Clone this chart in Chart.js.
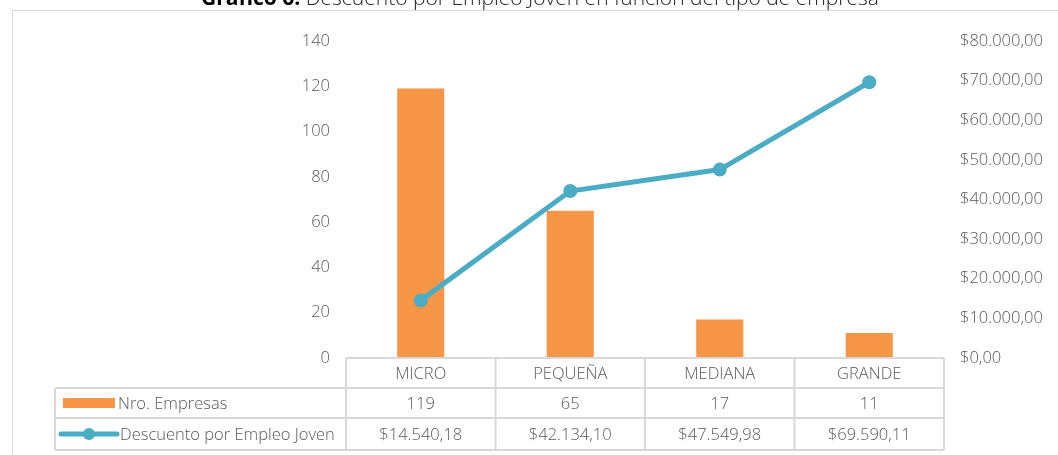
<!DOCTYPE html>
<html>
<head>
<meta charset="utf-8">
<script src="https://cdn.jsdelivr.net/npm/chart.js@4"></script>
<style>
  html, body { margin: 0; padding: 0; background: #fff; }
  #wrap { width: 1058px; height: 455px; position: relative; }
</style>
</head>
<body>
<div id="wrap"><canvas id="chart" width="1058" height="455"></canvas></div>
<script>
// --- DATA ---
const categories = ['MICRO', 'PEQUEÑA', 'MEDIANA', 'GRANDE'];
const empresas = [119, 65, 17, 11];
const descuento = [14540.18, 42134.10, 47549.98, 69590.11];
const leftTicks = [0, 20, 40, 60, 80, 100, 120, 140];
const rightTicks = [0, 10000, 20000, 30000, 40000, 50000, 60000, 70000, 80000];

const seriesNames = ['Nro. Empresas', 'Descuento por Empleo Joven'];
const titleBold = 'Gráfico 6.';
const titleRest = ' Descuento por Empleo Joven en función del tipo de empresa';

const FONT = '"Open Sans", Lato, sans-serif';
const SIZE = 16.5;
const TEXT = '#595959';
const GRID = '#d9d9d9';
const ORANGE = '#F79646';
const BLUE = '#4BACC6';

const money = v => '$' + v.toLocaleString('de-DE', { minimumFractionDigits: 2, maximumFractionDigits: 2 });

// frame, title and data table drawn around the plot
const tablePlugin = {
    id: 'dataTable',
    afterDraw(chart) {
        const ctx = chart.ctx;
        const x = chart.scales.x;
        const area = chart.chartArea;
        const half = (area.right - area.left) / categories.length / 2;
        const rowTop = area.bottom;
        const rows = [rowTop, rowTop + 30, rowTop + 60, rowTop + 92];
        const tableLeft = 55;

        ctx.save();
        // outer frame
        ctx.strokeStyle = GRID;
        ctx.lineWidth = 1;
        ctx.beginPath();
        ctx.moveTo(12.5, 460);
        ctx.lineTo(12.5, 10.5);
        ctx.lineTo(1070, 10.5);
        ctx.stroke();

        // title (cut at top in reference)
        ctx.textBaseline = 'alphabetic';
        ctx.font = 'bold 21px ' + FONT;
        const wb = ctx.measureText(titleBold).width;
        ctx.font = '300 21px ' + FONT;
        const wr = ctx.measureText(titleRest).width;
        let tx = 540 - (wb + wr) / 2;
        ctx.fillStyle = '#000';
        ctx.font = 'bold 21px ' + FONT;
        ctx.fillText(titleBold, tx, 5);
        ctx.font = '300 21px ' + FONT;
        ctx.fillStyle = '#222';
        ctx.fillText(titleRest, tx + wb, 5);

        // table lines
        ctx.strokeStyle = GRID;
        ctx.lineWidth = 2;
        ctx.beginPath();
        ctx.moveTo(area.left, rows[0]);
        ctx.lineTo(area.right, rows[0]);
        for (let r = 1; r < rows.length; r++) {
            ctx.moveTo(tableLeft, rows[r]);
            ctx.lineTo(area.right, rows[r]);
        }
        ctx.moveTo(tableLeft, rows[1]);
        ctx.lineTo(tableLeft, rows[3]);
        for (let i = 0; i <= categories.length; i++) {
            const cx = i < categories.length ? x.getPixelForValue(i) - half : x.getPixelForValue(i - 1) + half;
            ctx.moveTo(cx, rows[0]);
            ctx.lineTo(cx, rows[3]);
        }
        ctx.stroke();

        // cell text
        ctx.fillStyle = TEXT;
        ctx.font = '300 ' + SIZE + 'px ' + FONT;
        ctx.textAlign = 'center';
        ctx.textBaseline = 'middle';
        categories.forEach((c, i) => {
            const cx = x.getPixelForValue(i);
            ctx.fillText(c, cx, (rows[0] + rows[1]) / 2 + 1);
            ctx.fillText(String(empresas[i]), cx, (rows[1] + rows[2]) / 2 + 1);
            ctx.fillText(money(descuento[i]), cx, (rows[2] + rows[3]) / 2 + 1);
        });

        // legend keys
        ctx.textAlign = 'left';
        ctx.fillStyle = ORANGE;
        ctx.fillRect(63, rows[1] + 10, 52, 10);
        ctx.fillStyle = TEXT;
        ctx.fillText(seriesNames[0], 118, (rows[1] + rows[2]) / 2 + 1);

        const ly = (rows[2] + rows[3]) / 2;
        ctx.strokeStyle = BLUE;
        ctx.lineWidth = 5;
        ctx.lineCap = 'round';
        ctx.beginPath();
        ctx.moveTo(61, ly);
        ctx.lineTo(117, ly);
        ctx.stroke();
        ctx.fillStyle = BLUE;
        ctx.beginPath();
        ctx.arc(89, ly, 6, 0, Math.PI * 2);
        ctx.fill();
        ctx.fillStyle = TEXT;
        ctx.fillText(seriesNames[1], 120, ly + 1);
        ctx.restore();
    }
};

new Chart(document.getElementById('chart'), {
    data: {
        labels: categories,
        datasets: [
            {
                type: 'line',
                label: seriesNames[1],
                data: descuento,
                yAxisID: 'y2',
                borderColor: BLUE,
                backgroundColor: BLUE,
                borderWidth: 5,
                pointRadius: 7,
                pointHoverRadius: 7,
                pointBorderWidth: 0,
                tension: 0,
                order: 0
            },
            {
                type: 'bar',
                label: seriesNames[0],
                data: empresas,
                yAxisID: 'y',
                backgroundColor: ORANGE,
                categoryPercentage: 1,
                barPercentage: 0.315,
                order: 1
            }
        ]
    },
    options: {
        responsive: false,
        animation: false,
        layout: { padding: { top: 41, bottom: 97, left: 0, right: 0 } },
        plugins: {
            legend: { display: false },
            tooltip: { enabled: false }
        },
        scales: {
            x: { display: false, offset: true },
            y: {
                position: 'left',
                min: 0,
                max: 140,
                afterFit: s => { s.width = 346; },
                afterBuildTicks: s => { s.ticks = leftTicks.map(v => ({ value: v })); },
                grid: { display: false },
                border: { display: false },
                ticks: { color: TEXT, font: { family: FONT, size: SIZE, weight: 300 }, padding: 8 }
            },
            y2: {
                position: 'right',
                min: 0,
                max: 80000,
                afterFit: s => { s.width = 114; },
                afterBuildTicks: s => { s.ticks = rightTicks.map(v => ({ value: v })); },
                grid: { display: false },
                border: { display: false },
                ticks: { color: TEXT, font: { family: FONT, size: SIZE, weight: 300 }, padding: 8, callback: v => money(v) }
            }
        }
    },
    plugins: [tablePlugin]
});
</script>
</body>
</html>
